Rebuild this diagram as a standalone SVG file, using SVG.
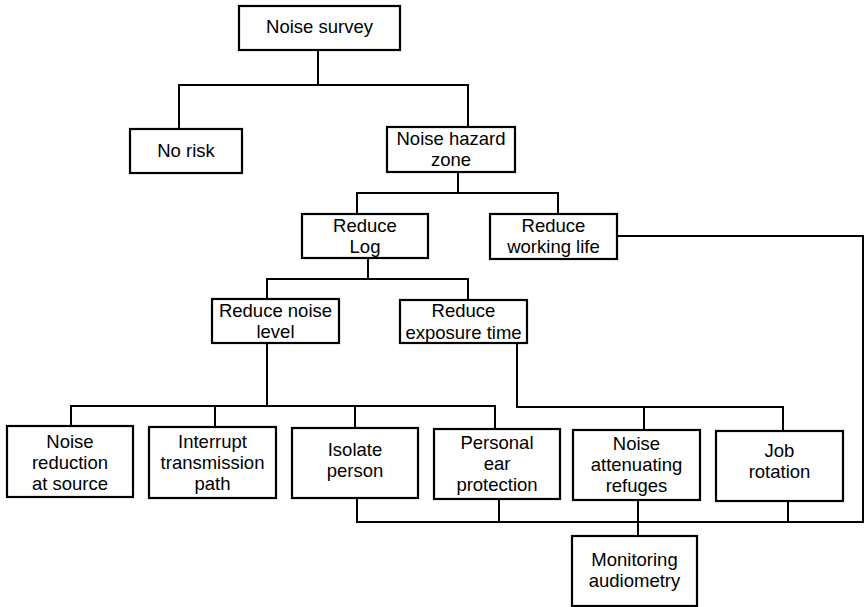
<svg xmlns="http://www.w3.org/2000/svg" width="866" height="607" viewBox="0 0 866 607">
<style>
.box{fill:#fff;stroke:#000;stroke-width:2.2}
.ln{fill:none;stroke:#000;stroke-width:2}
text{font-family:"Liberation Sans",Arial,sans-serif;font-size:18.5px;fill:#000;text-anchor:middle}
</style>
<rect width="866" height="607" fill="#fff"/>
<g id="connectors">
<path class="ln" d="M318,50 V85 M179,129 V85 H468 V127"/>
<path class="ln" d="M458,172 V193 M357,214 V193 H558 V214"/>
<path class="ln" d="M617,236 H863 V522 H357 V498 M499,499 V522 M638,500 V536 M788,501 V522"/>
<path class="ln" d="M368,258 V279 M267,299 V279 H468 V300"/>
<path class="ln" d="M267,343 V406 M71,426 V406 H495 V429 M215,406 V427 M355,406 V428"/>
<path class="ln" d="M517,343 V407 H783 V431 M644,407 V430"/>
</g>
<g id="noise-survey"><rect class="box" x="239" y="6" width="161" height="44"/><text x="319.5" y="33">Noise survey</text></g>
<g id="no-risk"><rect class="box" x="130" y="129" width="112" height="44"/><text x="186" y="157">No risk</text></g>
<g id="noise-hazard-zone"><rect class="box" x="387" y="127" width="128" height="45"/><text x="451" y="145">Noise hazard</text><text x="451" y="166">zone</text></g>
<g id="reduce-log"><rect class="box" x="302" y="214" width="126" height="44"/><text x="365" y="232">Reduce</text><text x="365" y="253">Log</text></g>
<g id="reduce-working-life"><rect class="box" x="490" y="214" width="127" height="45"/><text x="553.5" y="232">Reduce</text><text x="553.5" y="253">working life</text></g>
<g id="reduce-noise-level"><rect class="box" x="212" y="299" width="127" height="44"/><text x="275.5" y="317">Reduce noise</text><text x="275.5" y="338">level</text></g>
<g id="reduce-exposure-time"><rect class="box" x="400" y="300" width="127" height="43"/><text x="463.5" y="317">Reduce</text><text x="463.5" y="339">exposure time</text></g>
<g id="noise-reduction-at-source"><rect class="box" x="7" y="426" width="126" height="71"/><text x="70" y="447.5">Noise</text><text x="70" y="468.5">reduction</text><text x="70" y="489.5">at source</text></g>
<g id="interrupt-transmission-path"><rect class="box" x="149" y="427" width="127" height="71"/><text x="212.5" y="447.5">Interrupt</text><text x="212.5" y="468.5">transmission</text><text x="212.5" y="489.5">path</text></g>
<g id="isolate-person"><rect class="box" x="292" y="428" width="126" height="70"/><text x="355" y="456">Isolate</text><text x="355" y="477">person</text></g>
<g id="personal-ear-protection"><rect class="box" x="434" y="429" width="126" height="70"/><text x="497" y="449">Personal</text><text x="497" y="470">ear</text><text x="497" y="491">protection</text></g>
<g id="noise-attenuating-refuges"><rect class="box" x="573" y="430" width="127" height="70"/><text x="636.5" y="450">Noise</text><text x="636.5" y="471">attenuating</text><text x="636.5" y="492">refuges</text></g>
<g id="job-rotation"><rect class="box" x="716" y="431" width="127" height="70"/><text x="779.5" y="457">Job</text><text x="779.5" y="478">rotation</text></g>
<g id="monitoring-audiometry"><rect class="box" x="572" y="536" width="125" height="70"/><text x="634.5" y="566">Monitoring</text><text x="634.5" y="587">audiometry</text></g>
</svg>
